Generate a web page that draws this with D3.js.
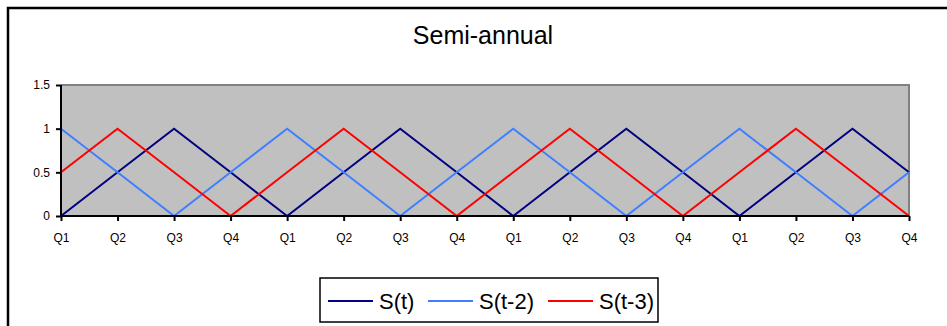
<!DOCTYPE html>
<html>
<head>
<meta charset="utf-8">
<script src="https://cdn.jsdelivr.net/npm/d3@7"></script>
<style>
  html, body { margin: 0; padding: 0; background: #fff; }
  svg { display: block; font-family: "Liberation Sans", Arial, sans-serif; }
</style>
</head>
<body>
<svg id="chart" width="947" height="326"></svg>
<script>
// Quarter labels along the x axis (four years of quarters)
const quarters = ["Q1","Q2","Q3","Q4","Q1","Q2","Q3","Q4","Q1","Q2","Q3","Q4","Q1","Q2","Q3","Q4"];
// Seasonal indicator series
const sT  = [0, 0.5, 1, 0.5, 0, 0.5, 1, 0.5, 0, 0.5, 1, 0.5, 0, 0.5, 1, 0.5];
const sT2 = [1, 0.5, 0, 0.5, 1, 0.5, 0, 0.5, 1, 0.5, 0, 0.5, 1, 0.5, 0, 0.5];
const sT3 = [0.5, 1, 0.5, 0, 0.5, 1, 0.5, 0, 0.5, 1, 0.5, 0, 0.5, 1, 0.5, 0];
const yTicks = [0, 0.5, 1, 1.5];
const seriesNames = ["S(t)", "S(t-2)", "S(t-3)"];
const seriesColors = ["#000080", "#3f7fff", "#ff0000"];

const series = [sT, sT2, sT3].map((v, i) => ({ name: seriesNames[i], color: seriesColors[i], values: v }));

const svg = d3.select("#chart");

// Outer frame
svg.append("path")
  .attr("d", "M8,330 V8 H950")
  .attr("fill", "none")
  .attr("stroke", "#000")
  .attr("stroke-width", 2.5);

const plot = { left: 61, right: 909, top: 85, bottom: 216 };

const x = d3.scalePoint().domain(d3.range(quarters.length)).range([plot.left, plot.right]);
const y = d3.scaleLinear().domain([0, 1.5]).range([plot.bottom, plot.top]);

// Plot area background
svg.append("rect")
  .attr("x", plot.left).attr("y", plot.top)
  .attr("width", plot.right - plot.left).attr("height", plot.bottom - plot.top)
  .attr("fill", "#c0c0c0");
svg.append("path")
  .attr("d", `M${plot.left},${plot.top} H${plot.right} V${plot.bottom}`)
  .attr("fill", "none").attr("stroke", "#808080").attr("stroke-width", 2);

// Title
svg.append("text")
  .attr("x", 483).attr("y", 44)
  .attr("text-anchor", "middle")
  .attr("font-size", 25)
  .attr("fill", "#000")
  .text("Semi-annual");

// Series lines
const line = d3.line().x((d, i) => x(i)).y(d => y(d));
svg.append("g").selectAll("path")
  .data(series)
  .join("path")
  .attr("d", d => line(d.values))
  .attr("fill", "none")
  .attr("stroke", d => d.color)
  .attr("stroke-width", 2)
  .attr("stroke-linejoin", "miter");

// Y axis
const yAxis = svg.append("g")
  .attr("transform", `translate(${plot.left},0)`)
  .call(d3.axisLeft(y).tickValues(yTicks).tickFormat(d3.format("")).tickSize(5).tickPadding(6));
yAxis.select(".domain").attr("stroke", "#000").attr("stroke-width", 2).attr("d", `M0,${plot.top}V${plot.bottom}`);
yAxis.selectAll(".tick line").attr("stroke", "#000").attr("stroke-width", 2);
yAxis.selectAll(".tick text").attr("font-size", 12).attr("fill", "#000").attr("font-family", "Liberation Sans, Arial, sans-serif");

// X axis
const xAxis = svg.append("g")
  .attr("transform", `translate(0,${plot.bottom})`)
  .call(d3.axisBottom(x).tickFormat(i => quarters[i]).tickSize(5).tickPadding(12));
xAxis.select(".domain").attr("stroke", "#000").attr("stroke-width", 2).attr("d", `M${plot.left},0H${plot.right}`);
xAxis.selectAll(".tick line").attr("stroke", "#000").attr("stroke-width", 2);
xAxis.selectAll(".tick text").attr("font-size", 12).attr("fill", "#000").attr("font-family", "Liberation Sans, Arial, sans-serif");

// Legend
const legend = svg.append("g");
legend.append("rect")
  .attr("x", 320).attr("y", 278).attr("width", 338).attr("height", 44)
  .attr("fill", "#fff").attr("stroke", "#000").attr("stroke-width", 1.5);
const legendX = [328, 428, 548];
const items = legend.selectAll("g.item").data(series).join("g")
  .attr("class", "item")
  .attr("transform", (d, i) => `translate(${legendX[i]},301)`);
items.append("line")
  .attr("x1", 0).attr("x2", 45).attr("y1", 0).attr("y2", 0)
  .attr("stroke", d => d.color).attr("stroke-width", 2);
items.append("text")
  .attr("x", 51).attr("y", 8)
  .attr("font-size", 22)
  .attr("fill", "#000")
  .text(d => d.name);
</script>
</body>
</html>
